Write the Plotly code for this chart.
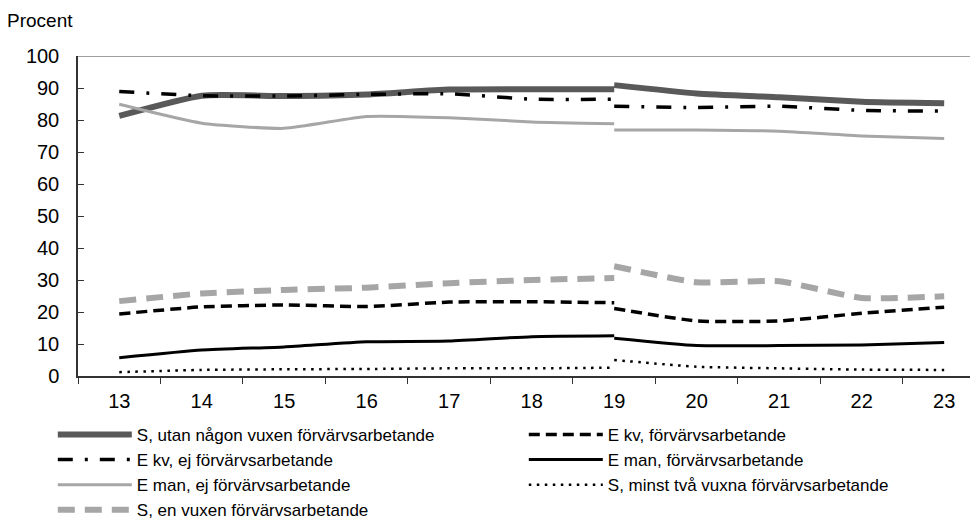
import plotly.graph_objects as go

years = ["13", "14", "15", "16", "17", "18", "19", "20", "21", "22", "23"]
years_a = years[:7]   # 13-19
years_b = years[6:]   # 19-23

names = [
    "S, utan någon vuxen förvärvsarbetande",
    "E kv, förvärvsarbetande",
    "E kv, ej förvärvsarbetande",
    "E man, förvärvsarbetande",
    "E man, ej förvärvsarbetande",
    "S, minst två vuxna förvärvsarbetande",
    "S, en vuxen förvärvsarbetande",
]

s_utan_a = [81.3, 87.6, 87.5, 88.0, 89.5, 89.6, 89.6]
s_utan_b = [90.9, 88.3, 87.1, 85.7, 85.2]
ekv_forv_a = [19.4, 21.6, 22.2, 21.7, 23.1, 23.2, 22.9]
ekv_forv_b = [21.1, 17.2, 17.2, 19.6, 21.5]
ekv_ej_a = [88.9, 87.6, 87.5, 88.0, 88.2, 86.5, 86.5]
ekv_ej_b = [84.3, 83.9, 84.3, 83.0, 82.8]
eman_forv_a = [5.7, 8.1, 9.1, 10.7, 10.9, 12.3, 12.6]
eman_forv_b = [11.8, 9.5, 9.5, 9.7, 10.5]
eman_ej_a = [84.9, 79.0, 77.4, 81.1, 80.7, 79.4, 78.8]
eman_ej_b = [76.9, 76.9, 76.5, 75.0, 74.2]
s_tva_a = [1.2, 1.9, 2.1, 2.2, 2.4, 2.4, 2.6]
s_tva_b = [5.0, 2.9, 2.4, 2.0, 1.9]
s_en_a = [23.4, 25.8, 26.9, 27.6, 29.0, 30.0, 30.6]
s_en_b = [34.3, 29.3, 29.6, 24.4, 24.9]

series_a = [s_utan_a, ekv_forv_a, ekv_ej_a, eman_forv_a, eman_ej_a, s_tva_a, s_en_a]
series_b = [s_utan_b, ekv_forv_b, ekv_ej_b, eman_forv_b, eman_ej_b, s_tva_b, s_en_b]

styles = [
    dict(color="#595959", width=6, dash="solid"),
    dict(color="#000000", width=3.5, dash="11px,6px"),
    dict(color="#000000", width=3.5, dash="15px,12px,3px,12px"),
    dict(color="#000000", width=3, dash="solid"),
    dict(color="#A6A6A6", width=3, dash="solid"),
    dict(color="#000000", width=2.5, dash="2.5px,5.5px"),
    dict(color="#A6A6A6", width=6, dash="17px,10px"),
]

fig = go.Figure()
for name, ya, yb, st in zip(names, series_a, series_b, styles):
    fig.add_trace(go.Scatter(
        x=years_a, y=ya, name=name, mode="lines", legendgroup=name,
        line=dict(color=st["color"], width=st["width"], dash=st["dash"],
                  shape="spline", smoothing=0.5),
        hoverinfo="skip"))
    fig.add_trace(go.Scatter(
        x=years_b, y=yb, name=name, mode="lines", legendgroup=name,
        showlegend=False,
        line=dict(color=st["color"], width=st["width"], dash=st["dash"],
                  shape="spline", smoothing=0.5),
        hoverinfo="skip"))

font = "Liberation Sans, Arial, sans-serif"

# the page body adds an 8 px offset, so the figure is 8 px smaller
fig.update_layout(
    width=970, height=519,
    margin=dict(l=70, r=0, t=48, b=151, autoexpand=False),
    paper_bgcolor="white", plot_bgcolor="white",
    font=dict(family=font, size=20, color="#000000"),
    showlegend=True,
    legend=dict(
        orientation="h", x=-0.028, xanchor="left", y=-0.128, yanchor="top",
        entrywidth=382, entrywidthmode="pixels",
        font=dict(family=font, size=17, color="#000000"),
        tracegroupgap=0, itemwidth=74, bgcolor="rgba(0,0,0,0)",
    ),
    xaxis=dict(
        type="category", categoryorder="array", categoryarray=years,
        range=[-0.5, 10.41], tickson="boundaries",
        showline=True, linecolor="#333333", linewidth=1.5,
        ticks="outside", ticklen=6, tickcolor="#333333", tickwidth=1,
        ticklabelstandoff=6,
        showgrid=False, zeroline=False,
        tickfont=dict(family=font, size=20, color="#000000"),
    ),
    yaxis=dict(
        range=[0, 100], dtick=10, tick0=0,
        showline=True, linecolor="#333333", linewidth=1.5,
        ticks="inside", ticklen=6, tickcolor="#333333",
        ticklabelstandoff=13,
        showgrid=False, zeroline=False,
        tickfont=dict(family=font, size=20, color="#000000"),
    ),
    annotations=[dict(
        text="Procent", xref="paper", yref="paper", x=-0.081, y=1.072,
        xanchor="left", yanchor="bottom", showarrow=False,
        font=dict(family=font, size=19, color="#000000"))],
    shapes=[dict(type="line", xref="paper", yref="y", x0=0, x1=1, y0=100, y1=100,
                 line=dict(color="#808080", width=1.5))],
)

fig.write_html("out.html")
